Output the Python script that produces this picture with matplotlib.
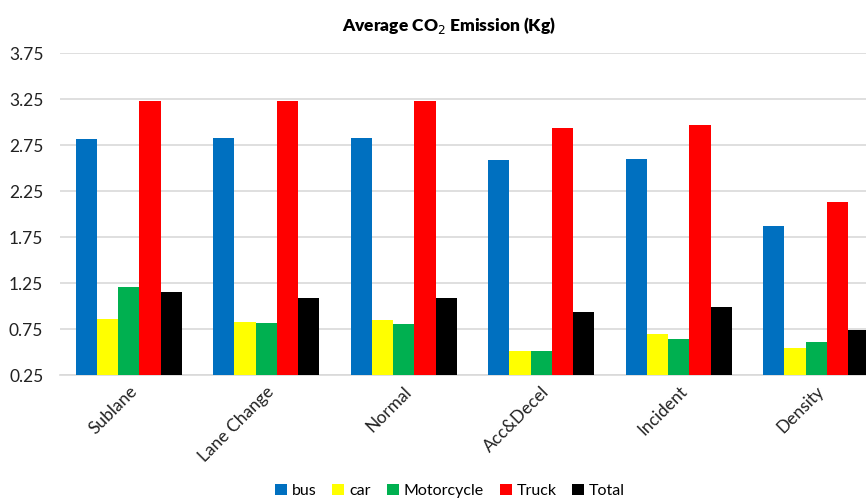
import matplotlib
matplotlib.use("Agg")
import matplotlib.pyplot as plt
import numpy as np

plt.rcParams['font.family'] = ['Lato', 'DejaVu Sans']

categories = ["Sublane", "Lane Change", "Normal", "Acc&Decel", "Incident", "Density"]
series_names = ["bus", "car", "Motorcycle", "Truck", "Total"]
bus = [2.82, 2.83, 2.83, 2.59, 2.60, 1.87]
car = [0.86, 0.83, 0.85, 0.51, 0.70, 0.54]
motorcycle = [1.21, 0.82, 0.80, 0.51, 0.64, 0.61]
truck = [3.23, 3.23, 3.23, 2.93, 2.97, 2.13]
total = [1.155, 1.09, 1.09, 0.93, 0.99, 0.74]
colors = ["#0070C0", "#FFFF00", "#00B050", "#FF0000", "#000000"]
yticks = [0.25, 0.75, 1.25, 1.75, 2.25, 2.75, 3.25, 3.75]

W, H = 866, 499
fig = plt.figure(figsize=(W / 100, H / 100), dpi=100)
ax = fig.add_axes([60 / W, (H - 375) / H, 825 / W, 322 / H])

x = np.arange(len(categories))
bw = 0.154
data = [bus, car, motorcycle, truck, total]
for i, (name, vals, c) in enumerate(zip(series_names, data, colors)):
    ax.bar(x + (i - 2) * bw, np.array(vals) - 0.25, bw, bottom=0.25,
           color=c, label=name, zorder=3)

ax.set_xlim(-0.5, len(categories) - 0.5)
ax.set_ylim(0.25, 3.75)
ax.set_yticks(yticks)
ax.set_yticklabels([f"{v:.2f}" for v in yticks], fontsize=12.5, color="#222222")
ax.yaxis.grid(True, color="#d9d9d9", linewidth=1.2, zorder=0)
ax.tick_params(axis="y", length=0, pad=12)
ax.tick_params(axis="x", length=0, pad=6)
ax.set_xticks(x)
ax.set_xticklabels(categories, rotation=45, ha="right", va="top",
                   rotation_mode="anchor", fontsize=12.5, color="#222222")
for s in ["top", "right", "left"]:
    ax.spines[s].set_visible(False)
ax.spines["bottom"].set_color("#d9d9d9")
ax.spines["bottom"].set_linewidth(1.2)

fig.text(449 / W, 1 - 25 / H, "Average CO$_2$ Emission (Kg)", ha="center",
         va="center", fontsize=12.5, fontweight="heavy", color="#000000")

handles, labels = ax.get_legend_handles_labels()
fig.legend(handles, labels, loc="center", bbox_to_anchor=(450 / W, 1 - 491 / H),
           ncol=5, frameon=False, fontsize=11.5, handlelength=0.75,
           handleheight=0.75, handletextpad=0.3, columnspacing=1.0,
           borderaxespad=0)

fig.savefig("out.png", dpi=100)
